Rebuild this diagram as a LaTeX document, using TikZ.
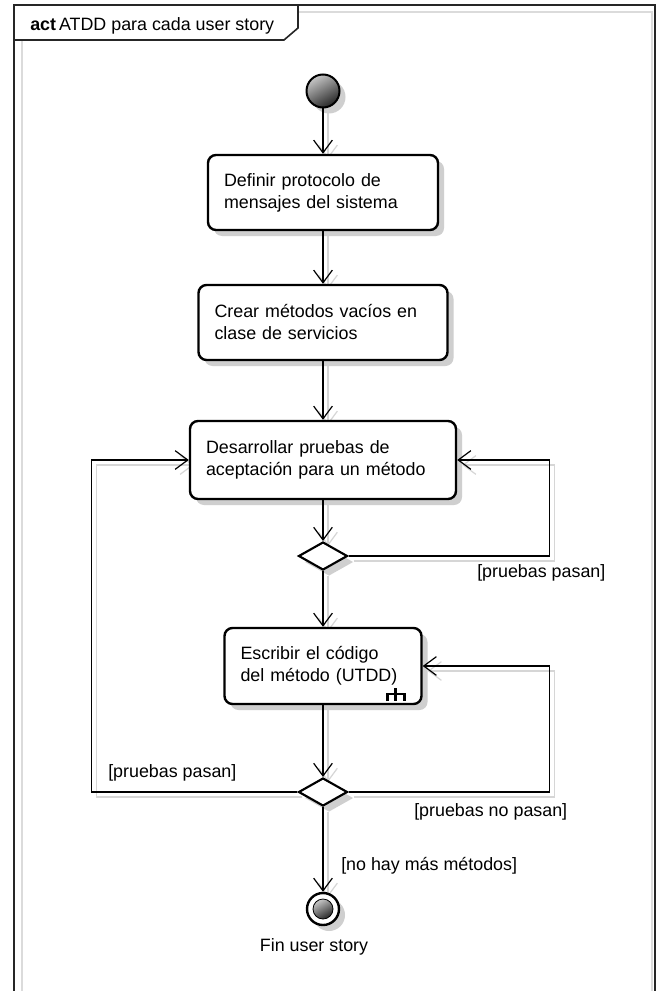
\documentclass[tikz,border=0pt]{standalone}
\usepackage{fontspec}
\setmainfont{Liberation Sans}
\usetikzlibrary{arrows.meta,shapes.geometric,shadows}
\pgfdeclarelayer{back}
\pgfdeclarelayer{background}
\pgfsetlayers{back,background,main}
\tikzset{
  every node/.style={font=\fontsize{13.4pt}{16.5pt}\selectfont},
  nshadow/.style={drop shadow={shadow xshift=4.5pt,shadow yshift=-4.5pt,fill=black!19,opacity=1}},
  actbox/.style={draw, line width=1.8pt, rounded corners=6pt, fill=white, align=left,
                 inner xsep=12pt, inner ysep=0pt, nshadow},
  decision/.style={diamond, aspect=1.75, draw, line width=1.6pt, fill=white,
                   minimum width=36.75pt, minimum height=21pt, inner sep=0pt, nshadow},
  conn/.style={line width=0.9pt, -{Straight Barb[length=9.5pt,width=14pt]}},
  cshad/.style={conn, draw=black!16, transform canvas={shift={(3.75pt,-3.75pt)}}},
  guard/.style={anchor=west, inner sep=0pt},
  frameline/.style={line width=1.2pt, draw=black!85},
  rake/.style={line width=1.9pt},
}
\newcommand\flow[1]{%
  \begin{pgfonlayer}{background}\draw[cshad] #1;\end{pgfonlayer}
  \draw[conn] #1;}
\begin{document}
\begin{tikzpicture}[x=0.75pt,y=-0.75pt]
\useasboundingbox (0,0) rectangle (657,991);
\clip (0,0) rectangle (657,991);
\begin{pgfonlayer}{back}
  \fill[white] (0,0) rectangle (657,991);
  \draw[black!14, line width=0.9pt] (22,1000) -- (22,41);
  \draw[black!14, line width=0.9pt] (299,12) -- (652,12) -- (652,1000);
\end{pgfonlayer}
% frame
\draw[frameline] (14,1000) -- (14,5) -- (655,5) -- (655,1000);
\draw[frameline] (14,40) -- (284,40) -- (298,28) -- (298,5);
\node[anchor=base west, inner sep=0pt] (title) at (30,30.5) {\textbf{act}\,ATDD para cada user story};

% nodes
\node[circle, draw, line width=1.5pt, minimum size=24.75pt, inner sep=0pt,
      shading=axis, top color=black!22, bottom color=black!85, shading angle=30, nshadow] (init) at (323,91) {};
\node[actbox, text width=148.5pt, minimum height=56.25pt] (b1) at (323,192.5)
  {Definir protocolo de\\mensajes del sistema};
\node[actbox, text width=162.75pt, minimum height=56.25pt] (b2) at (323,322.5)
  {Crear métodos vacíos en\\clase de servicios};
\node[actbox, text width=175.5pt, minimum height=58.5pt] (b3) at (323,460)
  {Desarrollar pruebas de\\aceptación para un método};
\node[decision] (d1) at (323,556) {};
\node[actbox, text width=123.75pt, minimum height=57pt] (b4) at (323,666)
  {Escribir el código\\del método (UTDD)};
\node[decision] (d2) at (323,792) {};
\node[circle, draw, line width=1.8pt, fill=white, minimum size=24pt, inner sep=0pt, nshadow] (fin) at (323,909) {};
\node[circle, draw, line width=0.6pt, minimum size=15pt, inner sep=0pt,
      shading=axis, top color=black!22, bottom color=black!85, shading angle=30] (finin) at (fin) {};

% rake icon (call behavior)
\draw[rake] ([shift={(-27,-17)}]b4.south east) -- ++(0,13);
\draw[rake] ([shift={(-35,-4)}]b4.south east) -- ++(0,-7) -- ++(17,0) -- ++(0,7);

% connectors
\flow{(init) -- (b1)}
\flow{(b1) -- (b2)}
\flow{(b2) -- (b3)}
\flow{(b3) -- (d1)}
\flow{(d1) -- (b4)}
\flow{(b4) -- (d2)}
\flow{(d2) -- (fin)}
\flow{(d1.east) -- ++(201,0) |- (b3.east)}
\flow{(d2.east) -- ++(201,0) |- (b4.east)}
\flow{(d2.west) -- ++(-206,0) |- (b3.west)}

% guards
\node[guard] (g1) at (477,573) {[pruebas pasan]};
\node[guard] (g2) at (108,773) {[pruebas pasan]};
\node[guard] (g3) at (414,812) {[pruebas no pasan]};
\node[guard] (g4) at (341,866) {[no hay más métodos]};
\node (finlabel) at (314,947) {Fin user story};
\end{tikzpicture}
\end{document}
